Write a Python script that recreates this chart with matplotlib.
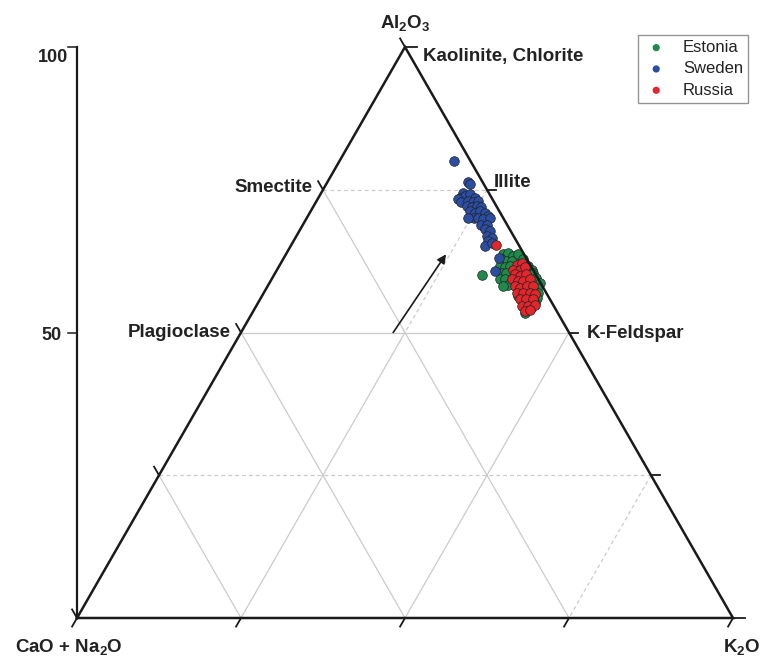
import numpy as np
import matplotlib
matplotlib.use("Agg")
import matplotlib.pyplot as plt

plt.rcParams['font.family'] = ['Liberation Sans', 'DejaVu Sans']
plt.rcParams['mathtext.fontset'] = 'custom'
plt.rcParams['mathtext.rm'] = 'Liberation Sans'
plt.rcParams['mathtext.bf'] = 'Liberation Sans:bold'
plt.rcParams['mathtext.it'] = 'Liberation Sans:italic'

# ---------------- data (wt% normalised: Al2O3, K2O, CaO+Na2O) ----------------
sweden_al = [80.0, 76.4, 76.0, 74.5, 73.6, 73.9, 74.2, 73.6, 73.3, 72.8, 73.0, 72.8, 73.0,
             72.2, 71.9, 72.2, 71.9, 71.3, 71.0, 71.3, 71.0, 70.4, 70.1, 70.1, 69.8, 70.1,
             70.1, 68.9, 68.9, 68.1, 67.8, 66.9, 66.6, 66.0, 65.1, 65.7, 63.1, 60.8]
sweden_k = [17.4, 21.4, 21.9, 21.6, 21.6, 22.2, 22.8, 23.9, 21.5, 22.2, 23.1, 24.0, 24.7,
            23.3, 24.2, 24.8, 25.7, 24.3, 25.2, 25.8, 26.7, 27.5, 25.4, 26.1, 27.0, 27.9,
            24.6, 27.2, 28.0, 28.1, 29.1, 29.0, 29.9, 29.7, 29.6, 30.4, 32.8, 33.3]
sweden_cn = [2.6, 2.2, 2.1, 3.9, 4.8, 3.9, 3.0, 2.5, 5.2, 5.0, 3.9, 3.2, 2.3,
             4.5, 3.9, 3.0, 2.4, 4.4, 3.8, 2.9, 2.3, 2.1, 4.5, 3.8, 3.2, 2.0,
             5.3, 3.9, 3.1, 3.8, 3.1, 4.1, 3.5, 4.3, 5.3, 3.9, 4.1, 5.9]

estonia_al = [60.0, 63.7, 64.0, 63.4, 62.8, 62.5, 62.5, 61.6, 61.4, 61.6, 60.5, 60.5, 59.3,
              59.3, 58.4, 58.1, 61.6, 61.0, 60.5, 60.2, 59.6, 59.0, 58.7, 57.8, 57.5, 57.0,
              56.1, 55.2, 54.3, 53.5, 56.4, 57.8, 60.5, 63.7, 62.8]
estonia_k = [31.7, 33.1, 33.7, 34.8, 33.3, 34.2, 35.0, 33.7, 34.5, 35.2, 34.5, 35.2, 34.8,
             35.6, 36.5, 35.9, 38.0, 38.8, 39.3, 39.2, 40.2, 40.3, 41.2, 41.2, 40.8, 41.8,
             42.0, 42.2, 42.1, 41.5, 39.0, 38.9, 36.5, 35.4, 36.6]
estonia_cn = [8.3, 3.2, 2.3, 1.8, 3.9, 3.3, 2.5, 4.7, 4.1, 3.2, 5.0, 4.3, 5.9,
              5.1, 5.1, 6.0, 0.4, 0.2, 0.2, 0.6, 0.2, 0.7, 0.1, 1.0, 1.7, 1.2,
              1.9, 2.6, 3.6, 5.0, 4.6, 3.3, 3.0, 0.9, 0.6]

russia_al = [65.4, 61.9, 62.2, 61.0, 61.0, 61.4, 60.2, 59.9, 60.2, 59.3, 59.0, 59.0, 59.3,
             58.1, 57.8, 58.1, 58.1, 57.0, 57.0, 57.0, 56.7, 55.8, 55.8, 55.8, 54.6, 54.6,
             54.9, 53.7, 54.0]
russia_k = [31.2, 36.1, 36.7, 36.0, 37.0, 37.6, 36.7, 37.6, 38.4, 36.6, 37.8, 38.5, 39.4,
            37.7, 38.6, 39.5, 40.5, 38.5, 39.5, 40.6, 41.5, 39.6, 40.6, 41.6, 40.5, 41.5,
            42.4, 41.4, 42.0]
russia_cn = [3.4, 2.0, 1.1, 3.0, 2.0, 1.0, 3.1, 2.5, 1.4, 4.1, 3.2, 2.5, 1.3,
             4.2, 3.6, 2.4, 1.4, 4.5, 3.5, 2.4, 1.8, 4.6, 3.6, 2.6, 4.9, 3.9,
             2.7, 4.9, 4.0]

# weathering trend arrow (start, end) as compositions
arrow_start = (50.0, 23.2, 26.8)
arrow_end = (63.7, 24.4, 11.9)

left_ticks = [50, 100]
left_ticklabels = ['50', '100']

series = [
    ('Estonia', estonia_al, estonia_k, estonia_cn, '#1f8a4c'),
    ('Sweden', sweden_al, sweden_k, sweden_cn, '#2b4ea3'),
    ('Russia', russia_al, russia_k, russia_cn, '#e3262b'),
]

H = np.sqrt(3) / 2


def tern(al, k, cn):
    al, k, cn = (np.asarray(v, dtype=float) for v in (al, k, cn))
    s = al + k + cn
    a = al / s * 100
    kk = k / s * 100
    return kk + a / 2, a * H


fig = plt.figure(figsize=(7.61, 6.60), dpi=100)
ax = fig.add_axes([0, 0, 1, 1])
sx = 6.56
sy = 571 / (100 * H)
ax.set_xlim(-77 / sx, (761 - 77) / sx)
ax.set_ylim(-(660 - 618) / sy, 618 / sy)
ax.axis('off')

grid_c = '#cbcbcb'


def gline(p1, p2, dashed=False):
    x1, y1 = tern(*p1)
    x2, y2 = tern(*p2)
    kw = dict(color=grid_c, lw=0.9, zorder=1)
    if dashed:
        kw['ls'] = (0, (3, 2.5))
    ax.plot([x1, x2], [y1, y2], **kw)


# Al2O3 = const
gline((75, 0, 25), (75, 25, 0), dashed=True)
gline((50, 0, 50), (50, 50, 0))
gline((25, 0, 75), (25, 75, 0), dashed=True)
# CN = const (parallel to right edge)
gline((75, 0, 25), (0, 75, 25))
gline((50, 0, 50), (0, 50, 50))
gline((25, 0, 75), (0, 25, 75))
# K = const (parallel to left edge)
gline((75, 25, 0), (50, 25, 25), dashed=True)
gline((50, 25, 25), (0, 25, 75))
gline((50, 50, 0), (0, 50, 50))
gline((25, 75, 0), (0, 75, 25), dashed=True)

# triangle
tx, ty = tern([0, 0, 100, 0], [0, 100, 0, 0], [100, 0, 0, 100])
ax.plot(tx, ty, color='#1a1a1a', lw=1.8, zorder=6, solid_joinstyle='miter')

# edge ticks
L = 1.5
levels = [0, 25, 50, 75, 100]
for v in levels:
    x, y = tern(v, 0, 100 - v)  # left edge
    ax.plot([x, x - 0.5 * L], [y, y + H * L], color='#1a1a1a', lw=1.3, zorder=6)
    x, y = tern(0, v, 100 - v)  # bottom edge
    ax.plot([x, x - 0.5 * L], [y, y - H * L], color='#1a1a1a', lw=1.3, zorder=6)
    x, y = tern(v, 100 - v, 0)  # right edge
    rl = 1.9 if v in (0, 100) else 1.4
    ax.plot([x, x + rl], [y, y], color='#1a1a1a', lw=1.3, zorder=6)

# left vertical Al2O3 scale
ax.plot([0, 0], [0, 100 * H], color='#1a1a1a', lw=1.6, zorder=6)
for t, lab in zip(left_ticks, left_ticklabels):
    ax.plot([-1.4, 0], [t * H, t * H], color='#1a1a1a', lw=1.1, zorder=6)
    ax.text(-1.35 if t == 100 else -2.3, t * H - (2.3 if t == 100 else 1.2), lab,
            ha='right', va='baseline', fontsize=13, fontweight='bold', color='#222222')

# scatter points
for name, a, k, c, col in series:
    x, y = tern(a, k, c)
    ax.scatter(x, y, s=48, color=col, edgecolors='#202020', linewidths=0.5,
               zorder=4, label=name)

# arrow
ax.annotate('', xy=tern(*arrow_end), xytext=tern(*arrow_start),
            arrowprops=dict(arrowstyle='-|>', color='#1a1a1a', lw=1.2,
                            mutation_scale=13, shrinkA=0, shrinkB=0), zorder=5)

# labels
tc = '#222222'
fs = 13.5
def lab(px, py, s, ha):
    ax.text((px - 77) / sx, (618 - py) / sy, s, ha=ha, va='baseline',
            fontsize=fs, fontweight='bold', color=tc)

lab(405, 28, r'Al$_\mathbf{2}$O$_\mathbf{3}$', 'center')
lab(423, 61, 'Kaolinite, Chlorite', 'left')
lab(312, 192, 'Smectite', 'right')
lab(494, 187, 'Illite', 'left')
lab(231, 337, 'Plagioclase', 'right')
lab(587, 338, 'K-Feldspar', 'left')
lab(15, 652, r'CaO + Na$_\mathbf{2}$O', 'left')
lab(723, 652, r'K$_\mathbf{2}$O', 'left')

leg = ax.legend(loc='upper right', bbox_to_anchor=(748 / 761, 1 - 35 / 660),
                bbox_transform=fig.transFigure, frameon=True, fancybox=False,
                edgecolor='#7a7a7a', fontsize=12, markerscale=0.75,
                handletextpad=0.8, borderpad=0.3, labelspacing=0.38,
                scatterpoints=1, borderaxespad=0, handlelength=1.6)
leg.get_frame().set_linewidth(1.0)
for h in leg.legend_handles:
    h.set_edgecolor('none')
for t in leg.get_texts():
    t.set_color('#222222')

fig.savefig('out.png', dpi=100)
